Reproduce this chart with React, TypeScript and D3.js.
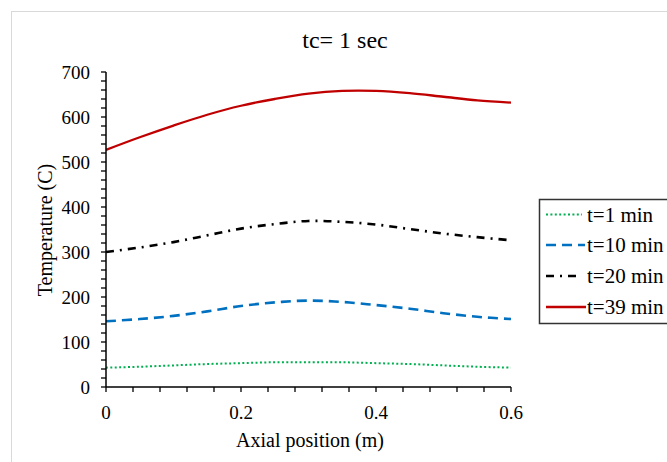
import React from "react";
import * as d3 from "d3";

const positions = [0, 0.05, 0.1, 0.15, 0.2, 0.25, 0.3, 0.35, 0.4, 0.45, 0.5, 0.55, 0.6];
const t1 = [43, 45, 48, 51, 53, 55, 55, 55, 53, 51, 48, 45, 43];
const t10 = [146, 151, 158, 168, 180, 188, 192, 189, 182, 174, 164, 156, 151];
const t20 = [300, 310, 322, 337, 352, 362, 369, 367, 361, 351, 341, 333, 326];
const t39 = [527, 555, 581, 605, 625, 640, 652, 658, 658, 653, 645, 637, 632];
const seriesNames = ["t=1 min", "t=10 min", "t=20 min", "t=39 min"];
const xTicks = [0, 0.2, 0.4, 0.6];
const yTicks = [0, 100, 200, 300, 400, 500, 600, 700];

const W = 667;
const H = 462;
const M = { left: 106, right: 511, top: 72, bottom: 387 };

const styles = [
  { color: "#00B050", width: 2, dash: "2,2.4", legendEnd: 582 },
  { color: "#0070C0", width: 2.6, dash: "10,6", legendEnd: 585 },
  { color: "#000000", width: 2.6, dash: "8,6,2,6", legendEnd: 578 },
  { color: "#C00000", width: 2.3, dash: "", legendEnd: 586 },
];

export default function App() {
  const x = d3.scaleLinear().domain([0, 0.6]).range([M.left, M.right]);
  const y = d3.scaleLinear().domain([0, 700]).range([M.bottom, M.top]);
  const line = d3
    .line<number>()
    .x((_, i) => x(positions[i]))
    .y((d) => y(d))
    .curve(d3.curveCatmullRom.alpha(0.5));
  const data = [t1, t10, t20, t39];
  const xMinor = d3.range(0, 0.6001, 0.04);
  const yMinor = d3.range(0, 700.01, 20);
  const font = "'Liberation Serif', 'Times New Roman', serif";
  const legendY = [214.5, 245, 276, 307];

  return (
    <svg
      width={W}
      height={H}
      style={{ position: "absolute", left: 0, top: 0, background: "#fff" }}
      fontFamily={font}
    >
      <rect x={0} y={0} width={W} height={H} fill="#fff" />
      <rect x={11.5} y={11.5} width={700} height={500} fill="#fff" stroke="#D9D9D9" strokeWidth={1} />
      <text x={345} y={40} textAnchor="middle" dominantBaseline="central" fontSize={24} fill="#000">
        tc= 1 sec
      </text>
      {data.map((d, i) => (
        <path
          key={i}
          d={line(d) || ""}
          fill="none"
          stroke={styles[i].color}
          strokeWidth={styles[i].width}
          strokeDasharray={styles[i].dash}
        />
      ))}
      <line x1={M.left} x2={M.left} y1={M.top} y2={M.bottom} stroke="#000" strokeWidth={1.5} />
      <line x1={M.left} x2={M.right} y1={M.bottom} y2={M.bottom} stroke="#000" strokeWidth={1.5} />
      {yMinor.map((v, i) => (
        <line key={"ym" + i} x1={M.left - 5} x2={M.left} y1={y(v)} y2={y(v)} stroke="#000" strokeWidth={1.3} />
      ))}
      {xMinor.map((v, i) => (
        <line key={"xm" + i} x1={x(v)} x2={x(v)} y1={M.bottom} y2={M.bottom + 5} stroke="#000" strokeWidth={1.3} />
      ))}
      {yTicks.map((v) => (
        <text key={"yt" + v} x={90} y={y(v)} textAnchor="end" dominantBaseline="central" fontSize={19} fill="#000">
          {v}
        </text>
      ))}
      {xTicks.map((v) => (
        <text key={"xt" + v} x={x(v)} y={412} textAnchor="middle" dominantBaseline="central" fontSize={19} fill="#000">
          {v}
        </text>
      ))}
      <text x={310} y={440} textAnchor="middle" dominantBaseline="central" fontSize={20} fill="#000">
        Axial position (m)
      </text>
      <text
        transform="translate(45,230) rotate(-90)"
        textAnchor="middle"
        dominantBaseline="central"
        fontSize={20}
        fill="#000"
      >
        Temperature (C)
      </text>
      <rect x={539.5} y={199.5} width={150} height={124} fill="#fff" stroke="#333" strokeWidth={1.5} />
      {seriesNames.map((n, i) => (
        <g key={n}>
          <line
            x1={546}
            x2={styles[i].legendEnd}
            y1={legendY[i]}
            y2={legendY[i]}
            stroke={styles[i].color}
            strokeWidth={styles[i].width}
            strokeDasharray={styles[i].dash}
          />
          <text x={587} y={legendY[i]} dominantBaseline="central" fontSize={21} fill="#000">
            {n}
          </text>
        </g>
      ))}
    </svg>
  );
}
